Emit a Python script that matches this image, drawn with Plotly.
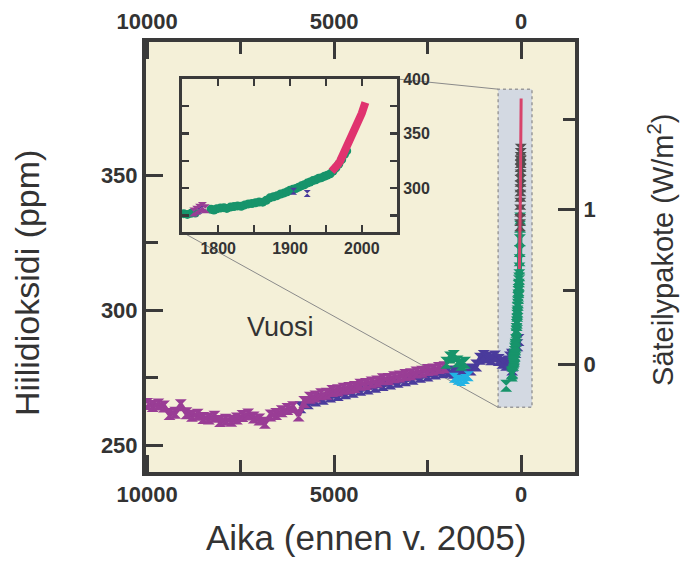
import numpy as np
import plotly.graph_objects as go

# ---------------- data ----------------
# Main panel: years before 2005 (BP) and CO2 (ppm)
purple_bp = [10000, 9850, 9700, 9550, 9400, 9250, 9100, 8950, 8800, 8650, 8500, 8350, 8200,
             8050, 7900, 7750, 7600, 7450, 7300, 7150, 7000, 6850, 6700, 6550, 6400, 6250,
             6100, 5950, 5800, 5650, 5500, 5350, 5200, 5050, 4900, 4750, 4600, 4450, 4300,
             4150, 4000, 3850, 3700, 3550, 3400, 3250, 3100, 2950, 2800, 2650, 2500, 2350,
             2200, 2050]
purple_ppm = [265.2, 264.5, 265.0, 264.3, 261.5, 262.0, 264.8, 261.8, 260.9, 261.2, 260.0,
              259.8, 260.5, 258.9, 259.4, 259.0, 259.8, 260.8, 261.3, 260.2, 259.5, 258.3,
              261.0, 261.5, 262.5, 263.4, 264.0, 261.0, 266.0, 267.5, 268.0, 268.8, 269.0,
              270.0, 270.3, 270.9, 271.2, 271.5, 272.4, 272.6, 273.2, 273.6, 274.4, 274.5,
              275.1, 275.4, 276.0, 276.3, 276.9, 277.2, 277.8, 278.0, 278.6, 278.9]

blue_bp = [5900, 5700, 5500, 5300, 5100, 4900, 4700, 4500, 4300, 4100, 3900, 3700, 3500,
           3300, 3100, 2900, 2700, 2500, 2300, 2100, 1950, 1800, 1650, 1500, 1350, 1200,
           1100, 1000, 900, 800, 700, 600, 500, 400, 350, 300, 250, 200, 150, 100, 70]
blue_ppm = [264.0, 265.5, 266.5, 267.2, 268.0, 268.6, 269.2, 269.8, 270.5, 271.0, 271.6,
            272.3, 272.8, 273.5, 274.0, 274.6, 275.3, 275.8, 276.5, 277.0, 277.3, 276.8,
            277.5, 276.2, 278.0, 279.5, 282.0, 283.0, 282.5, 281.8, 282.8, 281.5, 280.5,
            279.8, 281.0, 282.5, 283.5, 282.0, 284.5, 287.0, 289.0]

cyan_bp = [1800, 1700, 1600, 1500, 1400]
cyan_ppm = [275.0, 274.2, 273.8, 274.5, 275.5]

green_bp = [2000, 1900, 1800, 1700, 1600, 1500]
green_ppm = [280.5, 282.5, 283.0, 281.0, 279.8, 280.5]
green_outlier_bp = [400]
green_outlier_ppm = [272.0]

# Inset panel: calendar years (AD) and CO2 (ppm)
inset_purple_ad = [1766, 1770, 1774, 1778, 1782]
inset_purple_ppm = [278.0, 279.5, 281.5, 283.0, 281.0]

inset_blue_ad = [1773, 1778, 1905, 1924]
inset_blue_ppm = [279.5, 281.5, 297.0, 295.0]

inset_green_ad = [1752, 1757, 1762, 1768, 1790, 1794, 1798, 1803, 1808, 1812, 1817, 1822,
                  1827, 1832, 1837, 1842, 1847, 1852, 1857, 1862, 1867, 1872, 1877, 1882,
                  1887, 1892, 1896, 1900, 1904, 1908, 1912, 1916, 1920, 1924, 1928, 1932,
                  1936, 1940, 1944, 1948, 1952, 1956, 1960, 1964, 1968, 1972, 1976, 1979]
inset_green_ppm = [276.5, 275.8, 276.8, 277.0, 280.5, 279.8, 281.0, 281.6, 282.0, 281.3,
                   282.5, 283.0, 283.6, 283.2, 284.5, 285.4, 285.8, 286.5, 287.2, 287.0,
                   288.8, 291.0, 292.0, 293.0, 294.5, 295.5, 296.5, 298.0, 298.8, 299.5,
                   300.8, 302.0, 303.0, 304.5, 305.5, 306.8, 307.5, 309.0, 309.5, 310.8,
                   311.8, 313.0, 315.5, 318.5, 322.0, 326.0, 331.0, 334.0]

red_ad = [1958, 1961, 1964, 1967, 1970, 1973, 1976, 1979, 1982, 1985, 1988, 1991, 1994,
          1997, 2000, 2003, 2005]
red_ppm = [315.3, 317.0, 319.0, 321.8, 325.0, 329.0, 332.5, 336.5, 341.0, 345.5, 350.5,
           355.0, 358.5, 363.0, 368.5, 374.5, 378.5]

gray_ad = [1976, 1978, 1980, 1982, 1984, 1986, 1987, 1988, 1989, 1990, 1991, 1992, 1993,
           1994, 1995]
gray_ppm = [331.5, 333.5, 337.0, 339.5, 342.5, 344.5, 346.0, 348.0, 350.0, 352.0, 353.5,
            355.0, 356.5, 358.0, 359.5]

REF_YEAR = 2005

x_major = [10000, 5000, 0]
x_major_text = ["10000", "5000", "0"]
x_minor = [7500, 2500]
y_major = [250, 300, 350]
y_major_text = ["250", "300", "350"]
y_minor = [275, 325]
forcing_major = [0, 1]
forcing_major_text = ["0", "1"]
forcing_minor = [0.5, 1.5]
C0 = 280.0

inset_x_ticks = [1800, 1850, 1900, 1950, 2000]
inset_x_text = ["1800", " ", "1900", " ", "2000"]
inset_y_ticks = [275, 300, 325, 350, 375, 400]
inset_y_text = [" ", "300", " ", "350", " ", "400"]

zoom_box_bp = [615, -290]
zoom_box_ppm = [264, 382]

# ---------------- style ----------------
W, H = 682, 561
ML, MR, MT, MB = 146, 107, 42, 89
X_RANGE = [10030, -1440]
Y_RANGE = [240, 399.5]
INSET_XR = [1749.6, 2049]
INSET_YR = [259.6, 400]
INSET_XD = [0.084, 0.585]
INSET_YD = [0.558, 0.914]

BEIGE = "#f4f0d8"
INSET_BG = "#d9dde5"
RECT_BG = "#d3d9e2"
FRAME = "#3a3a3a"
TEXT = "#333333"
PURPLE = "#993d95"
BLUE = "#4a3b9c"
GREEN = "#17946b"
CYAN = "#22b3e4"
RED = "#d8436b"
RED_IN = "#e0336f"
GRAY = "#505050"

FONT = "Liberation Sans, Arial, Helvetica, sans-serif"


def f2ppm(f):
    return [C0 * np.exp(v / 5.35) for v in f]


def to_bp(ad):
    return [REF_YEAR - a for a in ad]


fig = go.Figure()


def main_trace(x, y, color, size=12, band=5):
    mode = "lines+markers" if band else "markers"
    fig.add_trace(go.Scatter(x=x, y=y, mode=mode, xaxis="x", yaxis="y",
                             line=dict(color=color, width=band if band else 0),
                             marker=dict(symbol="hourglass", size=size, color=color,
                                         line=dict(width=0)),
                             hoverinfo="skip", showlegend=False))


main_trace(blue_bp, blue_ppm, BLUE)
main_trace(purple_bp, purple_ppm, PURPLE)
main_trace(cyan_bp, cyan_ppm, CYAN, 10, 3)
main_trace(green_bp, green_ppm, GREEN)
main_trace(green_outlier_bp, green_outlier_ppm, GREEN, 12, 0)
main_trace(to_bp(inset_purple_ad), inset_purple_ppm, BLUE)
main_trace(to_bp(inset_green_ad), inset_green_ppm, GREEN)
main_trace(to_bp(gray_ad), gray_ppm, GRAY, 12, 0)
fig.add_trace(go.Scatter(x=to_bp(red_ad), y=red_ppm, mode="lines", xaxis="x", yaxis="y",
                         line=dict(color=RED, width=3), hoverinfo="skip", showlegend=False))

# dummy trace for the top / right axes
fig.add_trace(go.Scatter(x=[None], y=[None], xaxis="x2", yaxis="y2", showlegend=False,
                         hoverinfo="skip"))

# inset traces
fig.add_trace(go.Scatter(x=inset_green_ad, y=inset_green_ppm, mode="markers",
                         xaxis="x3", yaxis="y3",
                         marker=dict(symbol="circle", size=9, color=GREEN, line=dict(width=0)),
                         hoverinfo="skip", showlegend=False))
fig.add_trace(go.Scatter(x=inset_blue_ad, y=inset_blue_ppm, mode="markers",
                         xaxis="x3", yaxis="y3",
                         marker=dict(symbol="hourglass", size=7, color=BLUE, line=dict(width=0)),
                         hoverinfo="skip", showlegend=False))
fig.add_trace(go.Scatter(x=inset_purple_ad, y=inset_purple_ppm, mode="markers",
                         xaxis="x3", yaxis="y3",
                         marker=dict(symbol="hourglass", size=9, color=PURPLE, line=dict(width=0)),
                         hoverinfo="skip", showlegend=False))
fig.add_trace(go.Scatter(x=red_ad, y=red_ppm, mode="lines", xaxis="x3", yaxis="y3",
                         line=dict(color=RED_IN, width=8), hoverinfo="skip", showlegend=False))

tick_font = dict(family=FONT, size=22, color=TEXT, weight="bold")
inset_tick_font = dict(family=FONT, size=16, color=TEXT, weight="bold")

common_x = dict(range=X_RANGE, showline=True, linewidth=4, linecolor=FRAME, ticks="inside",
                tickmode="array", tickvals=x_major, ticktext=x_major_text, ticklen=17,
                tickwidth=3, tickcolor=FRAME, tickfont=tick_font, showgrid=False,
                zeroline=False, automargin=False,
                minor=dict(tickmode="array", tickvals=x_minor, ticks="inside", ticklen=12,
                           tickwidth=3, tickcolor=FRAME, showgrid=False))

fig.update_layout(
    width=W, height=H,
    margin=dict(l=ML, r=MR, t=MT, b=MB, pad=0, autoexpand=False),
    paper_bgcolor="white", plot_bgcolor=BEIGE,
    showlegend=False,
    xaxis=dict(common_x, domain=[0, 1], anchor="y", side="bottom"),
    xaxis2=dict(common_x, overlaying="x", anchor="y", side="top"),
    yaxis=dict(range=Y_RANGE, domain=[0, 1], anchor="x", side="left", showline=True,
               linewidth=4, linecolor=FRAME, ticks="inside", tickmode="array",
               tickvals=y_major, ticktext=y_major_text, ticklen=17, tickwidth=3,
               tickcolor=FRAME, tickfont=tick_font, showgrid=False, zeroline=False,
               automargin=False,
               minor=dict(tickmode="array", tickvals=y_minor, ticks="inside", ticklen=12,
                          tickwidth=3, tickcolor=FRAME, showgrid=False)),
    yaxis2=dict(range=Y_RANGE, overlaying="y", anchor="x", side="right", showline=True,
                linewidth=4, linecolor=FRAME, ticks="inside", tickmode="array",
                tickvals=f2ppm(forcing_major), ticktext=forcing_major_text, ticklen=17,
                tickwidth=3, tickcolor=FRAME, tickfont=tick_font, showgrid=False,
                zeroline=False, automargin=False,
                minor=dict(tickmode="array", tickvals=f2ppm(forcing_minor), ticks="inside",
                           ticklen=12, tickwidth=3, tickcolor=FRAME, showgrid=False)),
    xaxis3=dict(range=INSET_XR, domain=INSET_XD, anchor="y3", showline=True, linewidth=3,
                linecolor=FRAME, mirror="allticks", ticks="inside", tickmode="array",
                tickvals=inset_x_ticks, ticktext=inset_x_text, ticklen=7, tickwidth=2.5,
                tickcolor=FRAME, tickfont=inset_tick_font, showgrid=False, zeroline=False,
                automargin=False),
    yaxis3=dict(range=INSET_YR, domain=INSET_YD, anchor="x3", side="right", showline=True,
                linewidth=3, linecolor=FRAME, mirror="allticks", ticks="inside",
                tickmode="array", tickvals=inset_y_ticks, ticktext=inset_y_text, ticklen=7,
                tickwidth=2.5, tickcolor=FRAME, tickfont=inset_tick_font, showgrid=False,
                zeroline=False, automargin=False),
)


# inset corners expressed in main-axis data coordinates
def paper_to_main_x(p):
    return X_RANGE[0] + p * (X_RANGE[1] - X_RANGE[0])


def paper_to_main_y(p):
    return Y_RANGE[0] + p * (Y_RANGE[1] - Y_RANGE[0])


shapes = [
    dict(type="rect", xref="x", yref="y", x0=zoom_box_bp[0], x1=zoom_box_bp[1],
         y0=zoom_box_ppm[0], y1=zoom_box_ppm[1], fillcolor=RECT_BG,
         line=dict(color="#9a9a9a", width=1.5, dash="dot"), layer="below"),
    dict(type="line", xref="x", yref="y",
         x0=paper_to_main_x(INSET_XD[1]), y0=paper_to_main_y(INSET_YD[1]),
         x1=zoom_box_bp[0], y1=zoom_box_ppm[1],
         line=dict(color="#8a8a8a", width=1), layer="below"),
    dict(type="line", xref="x", yref="y",
         x0=paper_to_main_x(INSET_XD[0]), y0=paper_to_main_y(INSET_YD[0]),
         x1=zoom_box_bp[0], y1=zoom_box_ppm[0],
         line=dict(color="#8a8a8a", width=1), layer="below"),
    dict(type="rect", xref="x3 domain", yref="y3 domain", x0=0, x1=1, y0=0, y1=1,
         fillcolor=INSET_BG, line=dict(width=0), layer="below"),
]
fig.update_layout(shapes=shapes)

fig.add_annotation(text="Aika (ennen v. 2005)", xref="paper", yref="paper",
                   x=0.513, y=-0.153, xanchor="center", yanchor="middle",
                   showarrow=False, font=dict(family=FONT, size=35, color=TEXT))
fig.add_annotation(text="Hiilidioksidi (ppm)", xref="paper", yref="paper",
                   x=-0.277, y=0.44, xanchor="center", yanchor="middle", textangle=-90,
                   showarrow=False, font=dict(family=FONT, size=34, color=TEXT))
fig.add_annotation(text="Säteilypakote (W/m<sup>2</sup>)", xref="paper", yref="paper",
                   x=1.2, y=0.516, xanchor="center", yanchor="middle", textangle=-90,
                   showarrow=False, font=dict(family=FONT, size=29, color=TEXT))
fig.add_annotation(text="Vuosi", xref="x", yref="y", x=6444, y=293.7,
                   xanchor="center", yanchor="middle", showarrow=False,
                   font=dict(family=FONT, size=27, color=TEXT))

fig.write_html("out.html", post_script="document.body.style.margin='0';",
               config={"displayModeBar": False, "staticPlot": True})
